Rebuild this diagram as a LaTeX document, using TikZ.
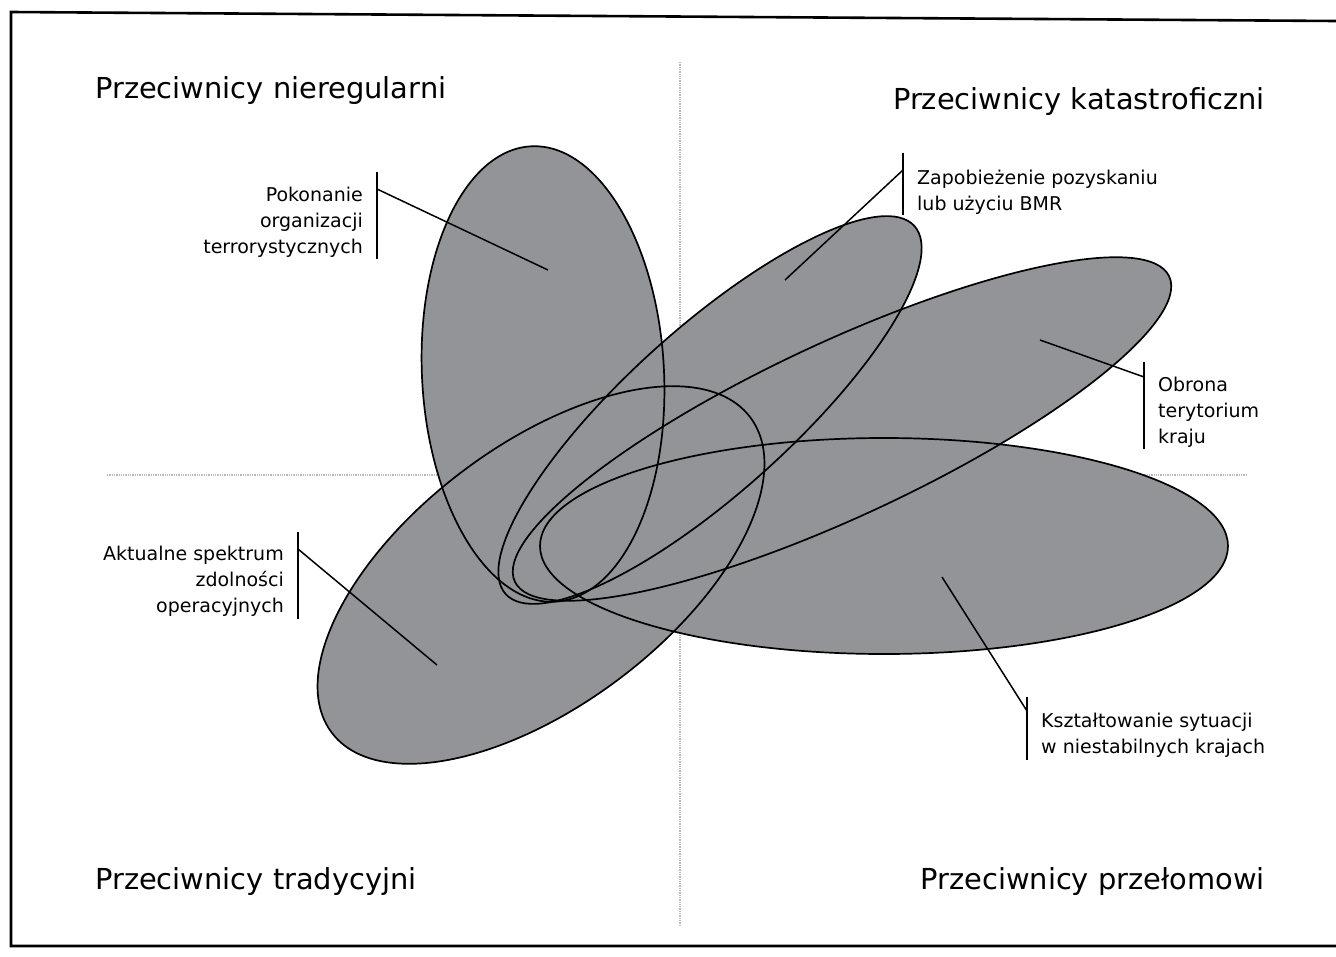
\documentclass[tikz,border=0pt]{standalone}
\usepackage{fontspec}
\setmainfont{DejaVu Sans}
\usetikzlibrary{positioning,calc}

\definecolor{ovalgray}{RGB}{147,148,152}
\definecolor{axisgray}{RGB}{185,185,185}

\begin{document}
\begin{tikzpicture}[x=1pt, y=-1pt,
		oval/.style={fill=ovalgray},
		rim/.style={draw=black, line width=1.7pt},
		axis/.style={draw=axisgray, line width=1.3pt, densely dotted},
		big/.style={font=\fontsize{28.9}{34}\selectfont, inner sep=0pt},
		lbl/.style={font=\fontsize{19}{26}\selectfont, inner xsep=14pt, inner ysep=8pt},
		bar/.style={line width=1.5pt},
		lead/.style={line width=1.5pt}
		]
		\useasboundingbox (0,0) rectangle (1336,956);
		
		% ── Frame and quadrant axes ──
		\draw[line width=2.6pt] (1336,21) -- (11,12) -- (11,946) -- (1336,946);
		\draw[axis] (680,62) -- (680,925);
		\draw[axis] (107,475) -- (1247,475);
		
		% ── Ovals: fill first, outline after ──
		\foreach \cx/\cy/\rx/\ry/\ang in {543/374/121/228/3, 710/410/275/82/42,
			842/429/361/87/25, 541/575/262/130/37, 884/546/344/108/0}
		\path[oval, rotate around={\ang:(\cx,\cy)}] (\cx,\cy) ellipse [x radius=\rx pt, y radius=\ry pt];
		\foreach \cx/\cy/\rx/\ry/\ang in {543/374/121/228/3, 710/410/275/82/42,
			842/429/361/87/25, 541/575/262/130/37, 884/546/344/108/0}
		\path[rim, rotate around={\ang:(\cx,\cy)}] (\cx,\cy) ellipse [x radius=\rx pt, y radius=\ry pt];
		
		% ── Quadrant titles ──
		\node[big, anchor=base west] (irreg) at (95,98) {Przeciwnicy nieregularni};
		\node[big, anchor=base east] (catas) at (1265,109) {Przeciwnicy katastroficzni};
		\node[big, anchor=base west] (trad) at (95,889) {Przeciwnicy tradycyjni};
		\node[big, anchor=base east] (disr) at (1265,889) {Przeciwnicy przełomowi};
		
		% ── Callouts ──
		\node[lbl, anchor=north east, align=right] (terr) at (377,179) {Pokonanie\\organizacji\\terrorystycznych};
		\node[lbl, anchor=north west, align=left] (wmd) at (903,162) {Zapobieżenie pozyskaniu\\lub użyciu BMR};
		\node[lbl, anchor=north west, align=left] (home) at (1144,369) {Obrona\\terytorium\\kraju};
		\node[lbl, anchor=north east, align=right] (capab) at (298,538) {Aktualne spektrum\\zdolności\\operacyjnych};
		\node[lbl, anchor=north west, align=left] (shape) at (1027,705) {Kształtowanie sytuacji\\w niestabilnych krajach};
		
		\coordinate (terrtip) at (548,270);
		\coordinate (wmdtip) at (785,280);
		\coordinate (hometip) at (1040,340);
		\coordinate (capabtip) at (437,665);
		\coordinate (shapetip) at (942,577);
		
		\draw[bar] ([yshift=7pt]terr.north east) -- ([yshift=7pt]terr.south east);
		\draw[bar] ([yshift=9pt]wmd.north west) -- ([yshift=8pt]wmd.south west);
		\draw[bar] ([yshift=7pt]home.north west) -- ([yshift=7pt]home.south west);
		\draw[bar] ([yshift=6pt]capab.north east) -- ([yshift=6pt]capab.south east);
		\draw[bar] ([yshift=8pt]shape.north west) -- ([yshift=6pt]shape.south west);
		
		\draw[lead] ([yshift=-10pt]terr.north east) -- (terrtip);
		\draw[lead] ([yshift=-8pt]wmd.north west) -- (wmdtip);
		\draw[lead] ([yshift=-8pt]home.north west) -- (hometip);
		\draw[lead] ([yshift=-11pt]capab.north east) -- (capabtip);
		\draw[lead] ([yshift=-6pt]shape.north west) -- (shapetip);
\end{tikzpicture}
\end{document}
